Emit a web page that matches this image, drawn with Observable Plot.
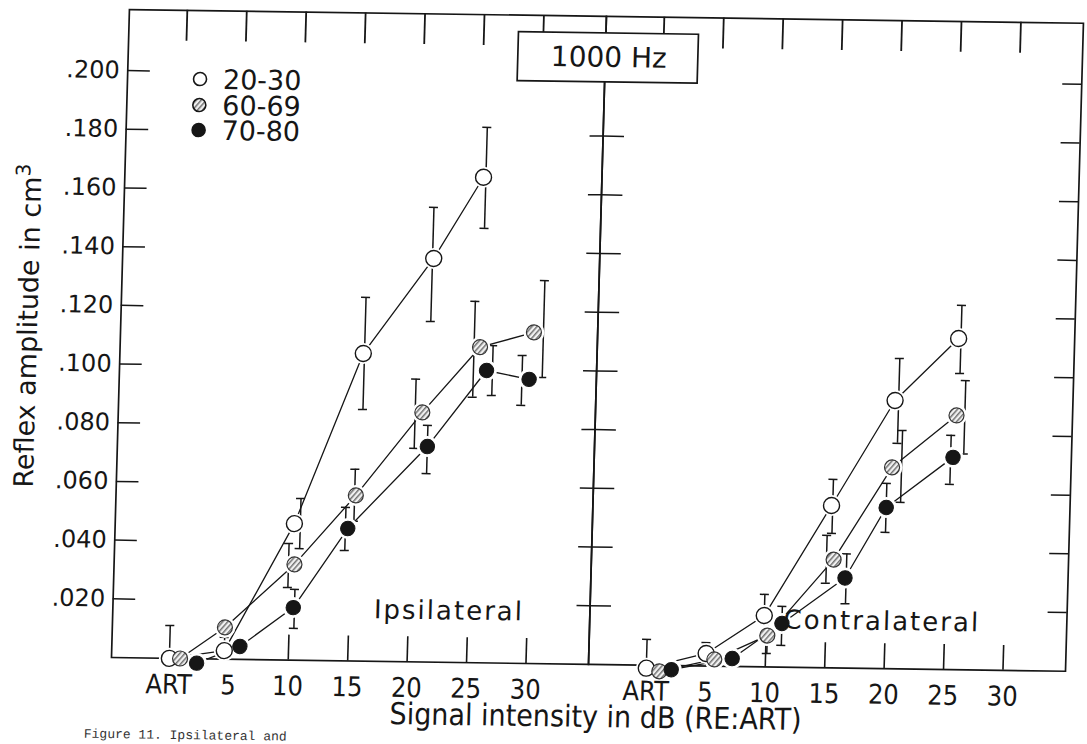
<!DOCTYPE html>
<html><head><meta charset="utf-8">
<script src="https://cdn.jsdelivr.net/npm/d3@7"></script>
<script src="https://cdn.jsdelivr.net/npm/@observablehq/plot@0.6"></script>
<style>
html,body{margin:0;padding:0;background:#fff;overflow:hidden;}
#chart{position:relative;width:1087px;height:744px;overflow:hidden;}
#chart svg{display:block;overflow:visible;transform-origin:110px 657px;transform:matrix(1,0.0144,-0.0277,1,0,0);}
</style></head><body><div id="chart"></div>
<script>
// ---------- data ----------
const panels = ["Ipsilateral", "Contralateral"];
const groups = ["20-30", "60-69", "70-80"];
const xTickValues = [0, 5, 10, 15, 20, 25, 30];
const xTickLabels = ["ART", "5", "10", "15", "20", "25", "30"];
const yTickValues = [0.02, 0.04, 0.06, 0.08, 0.10, 0.12, 0.14, 0.16, 0.18, 0.20];
const bottomTickValues = [10, 15, 20, 25, 30];
const topTickValues = [0, 5, 10, 15, 20, 25, 30];

// Ipsilateral (dB re ART, reflex amplitude cm3, error bar low/high, error bar dB)
const ipsi2030Db  = [0, 4.6, 10.2, 15.6, 21.3, 25.3];
const ipsi2030Val = [0, 0.0029, 0.0465, 0.1048, 0.1375, 0.1654];
const ipsi2030Lo  = [0, 0, 0.038, 0.0857, 0.116, 0.148];
const ipsi2030Hi  = [0.0112, 0.0074, 0.0551, 0.1239, 0.1549, 0.1824];
const ipsi2030Bar = [0, 4.6, 10.7, 15.7, 21.2, 25.5];

const ipsi6069Db  = [0.9, 4.6, 10.3, 15.3, 20.7, 25.4, 29.9];
const ipsi6069Val = [0, 0.0108, 0.0326, 0.0564, 0.085, 0.1075, 0.1128];
const ipsi6069Lo  = [null, null, 0.0247, 0.0476, 0.0727, 0.0904, 0.0975];
const ipsi6069Hi  = [null, null, 0.0397, 0.0653, 0.0963, 0.1231, 0.1305];
const ipsi6069Bar = [null, null, 9.8, 15.2, 20.1, 24.9, 30.7];

const ipsi7080Db  = [2.3, 5.9, 10.3, 14.7, 21.2, 26.0, 29.6];
const ipsi7080Val = [-0.0015, 0.0044, 0.0179, 0.0451, 0.0734, 0.0996, 0.0968];
const ipsi7080Lo  = [null, null, 0.0108, 0.0376, 0.0642, 0.0911, 0.0879];
const ipsi7080Hi  = [null, null, 0.0241, 0.0523, 0.0806, 0.1081, 0.1049];
const ipsi7080Bar = [null, null, 10.4, 14.5, 21.2, 26.5, 29.0];

// Contralateral
const contra2030Db  = [0, 5.0, 9.8, 15.2, 20.3, 25.5];
const contra2030Val = [-0.001, 0.0043, 0.0175, 0.0553, 0.0914, 0.1128];
const contra2030Lo  = [0, 0, 0.009, 0.0458, 0.0768, 0.1009];
const contra2030Hi  = [0.0088, 0.008, 0.0247, 0.0642, 0.1057, 0.1241];
const contra2030Bar = [0, 5.0, 9.8, 15.3, 20.6, 25.7];

const contra6069Db  = [1.1, 5.7, 10.1, 15.5, 20.2, 25.5];
const contra6069Val = [-0.002, 0.0023, 0.0107, 0.0369, 0.0686, 0.0866];
const contra6069Lo  = [null, null, 0.0046, 0.0288, 0.0567, 0.0735];
const contra6069Hi  = [null, null, 0.0193, 0.0451, 0.0812, 0.0985];
const contra6069Bar = [null, null, 10.1, 14.9, 21.0, 26.2];

const contra7080Db  = [2.1, 7.2, 11.3, 16.5, 19.8, 25.3];
const contra7080Val = [-0.0014, 0.0027, 0.0149, 0.0307, 0.0549, 0.0723];
const contra7080Lo  = [null, null, 0.0074, 0.0219, 0.0464, 0.0631];
const contra7080Hi  = [null, null, 0.0207, 0.0389, 0.0631, 0.0798];
const contra7080Bar = [null, null, 11.3, 16.6, 19.8, 25.1];

const panelLabelText = ["Ipsilateral", "Contralateral"];
const panelLabelDb   = [23.4, 19.7];
const panelLabelVal  = [0.0175, 0.016];

// ---------- table ----------
const rows = [];
function addSeries(panel, group, db, val, lo, hi, bar) {
  db.forEach((d, i) => rows.push({panel, group, db: d, value: val[i], lo: lo[i], hi: hi[i], barDb: bar[i]}));
}
addSeries("Ipsilateral", "20-30", ipsi2030Db, ipsi2030Val, ipsi2030Lo, ipsi2030Hi, ipsi2030Bar);
addSeries("Ipsilateral", "60-69", ipsi6069Db, ipsi6069Val, ipsi6069Lo, ipsi6069Hi, ipsi6069Bar);
addSeries("Ipsilateral", "70-80", ipsi7080Db, ipsi7080Val, ipsi7080Lo, ipsi7080Hi, ipsi7080Bar);
addSeries("Contralateral", "20-30", contra2030Db, contra2030Val, contra2030Lo, contra2030Hi, contra2030Bar);
addSeries("Contralateral", "60-69", contra6069Db, contra6069Val, contra6069Lo, contra6069Hi, contra6069Bar);
addSeries("Contralateral", "70-80", contra7080Db, contra7080Val, contra7080Lo, contra7080Hi, contra7080Bar);
const bars = rows.filter(r => r.hi != null);
const panelLabels = panelLabelText.map((t, i) => ({panel: panels[i], text: t, db: panelLabelDb[i], value: panelLabelVal[i]}));

const X_MIN = -4.87, X_MAX = 35.26, Y_MAX = 0.2208;
const INK = "#161616";
const leftTicks = yTickValues.map(v => ({panel: "Ipsilateral", v}));
const rightTicks = yTickValues.map(v => ({panel: "Contralateral", v}));

const chart = Plot.plot({
  width: 1087, height: 744,
  marginLeft: 110, marginRight: 22, marginTop: 9, marginBottom: 87,
  style: {fontFamily: "'DejaVu Sans', sans-serif", fontSize: "24px", color: INK, background: "transparent", overflow: "visible"},
  fx: {domain: panels, padding: 0, axis: null, label: null},
  x: {domain: [X_MIN, X_MAX], label: null},
  y: {domain: [0, Y_MAX], label: null},
  marks: [
    Plot.frame({stroke: INK, strokeWidth: 1.7}),
    // inward ticks: left axis
    Plot.ruleY(leftTicks, {y: "v", fx: "panel", x1: X_MIN, x2: X_MIN + 1.9, stroke: INK, strokeWidth: 1.5}),
    // divider ticks (crossing)
    Plot.ruleY(leftTicks, {y: "v", fx: "panel", x1: X_MAX - 1.1, x2: X_MAX, stroke: INK, strokeWidth: 1.5}),
    Plot.ruleY(rightTicks, {y: "v", fx: "panel", x1: X_MIN, x2: X_MIN + 1.8, stroke: INK, strokeWidth: 1.5}),
    // right border ticks
    Plot.ruleY(rightTicks, {y: "v", fx: "panel", x1: X_MAX - 1.6, x2: X_MAX, stroke: INK, strokeWidth: 1.5}),
    // bottom and top ticks
    Plot.ruleX(bottomTickValues, {x: d => d, y1: 0, y2: 0.0085, stroke: INK, strokeWidth: 1.6}),
    Plot.ruleX(topTickValues, {x: d => d, y1: Y_MAX, y2: Y_MAX - 0.0105, stroke: INK, strokeWidth: 1.8}),
    // series lines
    Plot.line(rows, {x: "db", y: "value", z: "group", fx: "panel", stroke: INK, strokeWidth: 1.3}),
    // error bars
    Plot.ruleX(bars, {x: "barDb", y1: "lo", y2: "hi", fx: "panel", stroke: INK, strokeWidth: 1.5}),
    Plot.ruleY(bars, {y: "hi", x1: d => d.barDb - 0.38, x2: d => d.barDb + 0.38, fx: "panel", stroke: INK, strokeWidth: 1.5}),
    Plot.ruleY(bars.filter(d => d.lo > 0), {y: "lo", x1: d => d.barDb - 0.38, x2: d => d.barDb + 0.38, fx: "panel", stroke: INK, strokeWidth: 1.5}),
    // halos
    Plot.dot(rows, {x: "db", y: "value", fx: "panel", r: 10.5, fill: "white", stroke: "none"}),
    // markers
    Plot.dot(rows.filter(d => d.group === "20-30"), {x: "db", y: "value", fx: "panel", r: 8, fill: "white", stroke: INK, strokeWidth: 1.4}),
    Plot.dot(rows.filter(d => d.group === "60-69"), {x: "db", y: "value", fx: "panel", r: 7.5, fill: "url(#hatch)", stroke: "#333", strokeWidth: 1.2}),
    Plot.dot(rows.filter(d => d.group === "70-80"), {x: "db", y: "value", fx: "panel", r: 7.2, fill: INK, stroke: INK, strokeWidth: 1}),
    // panel labels
    Plot.text(panelLabels, {x: "db", y: "value", fx: "panel", text: "text", fontSize: 26, lineAnchor: "middle", fill: INK}),
    // axes
    Plot.axisX({ticks: xTickValues, tickFormat: d => xTickLabels[xTickValues.indexOf(d)], tickSize: 0, tickPadding: 16, fontSize: 27, label: null}),
    Plot.axisY({ticks: yTickValues, tickFormat: d => "." + d3.format(".3f")(d).split(".")[1], tickSize: 0, tickPadding: 8, fontSize: 24, label: null})
  ]
});

document.getElementById("chart").appendChild(chart);
const svg = d3.select(chart);

// hatch pattern
const defs = svg.insert("defs", ":first-child");
const pat = defs.append("pattern").attr("id", "hatch").attr("patternUnits", "userSpaceOnUse")
  .attr("width", 3.8).attr("height", 3.8).attr("patternTransform", "rotate(40)");
pat.append("rect").attr("width", 3.8).attr("height", 3.8).attr("fill", "#f0f0f0");
pat.append("line").attr("x1", 0.8).attr("y1", 0).attr("x2", 0.8).attr("y2", 3.8).attr("stroke", "#444").attr("stroke-width", 1.1);

// condensed lettering for x tick labels
svg.selectAll("g[aria-label='x-axis tick label'] text").attr("font-family", "'DejaVu Sans Condensed','DejaVu Sans',sans-serif").attr("font-stretch", "condensed");
svg.selectAll("g[aria-label='text'] text").attr("letter-spacing", "2px");

const over = svg.append("g").attr("fill", INK).attr("font-family", "'DejaVu Sans', sans-serif");

// y-axis title
const yt = over.append("text").attr("transform", "translate(28,327) rotate(-90)").attr("text-anchor", "middle").attr("font-size", 27);
yt.append("tspan").text("Reflex amplitude in cm");
yt.append("tspan").attr("dy", -11).attr("font-size", 20).text("3");

// x-axis title
over.append("text").attr("x", 597).attr("y", 720).attr("text-anchor", "middle")
  .attr("font-family", "'DejaVu Sans Condensed','DejaVu Sans',sans-serif").attr("font-stretch", "condensed")
  .attr("font-size", 30).text("Signal intensity in dB (RE:ART)");

// 1000 Hz box
over.append("rect").attr("x", 501).attr("y", 26).attr("width", 180).attr("height", 49)
  .attr("fill", "white").attr("stroke", INK).attr("stroke-width", 1.7);
over.append("text").attr("x", 592).attr("y", 60).attr("text-anchor", "middle").attr("font-size", 28).text("1000 Hz");

// legend
const legendFill = ["white", "url(#hatch)", INK];
const legendY = [78, 104, 129];
groups.forEach((g, i) => {
  over.append("circle").attr("cx", 184).attr("cy", legendY[i]).attr("r", 6.5)
    .attr("fill", legendFill[i]).attr("stroke", INK).attr("stroke-width", 1.6);
  over.append("text").attr("x", 207).attr("y", legendY[i] + 9.5).attr("text-anchor", "start").attr("font-size", 27).text(g);
});

// caption (bottom of the page)
over.append("text").attr("x", 86).attr("y", 738).attr("text-anchor", "start").attr("font-family", "'Liberation Mono', monospace")
  .attr("font-size", 13).attr("fill", "#333").text("Figure 11. Ipsilateral and");
</script>
</body></html>
